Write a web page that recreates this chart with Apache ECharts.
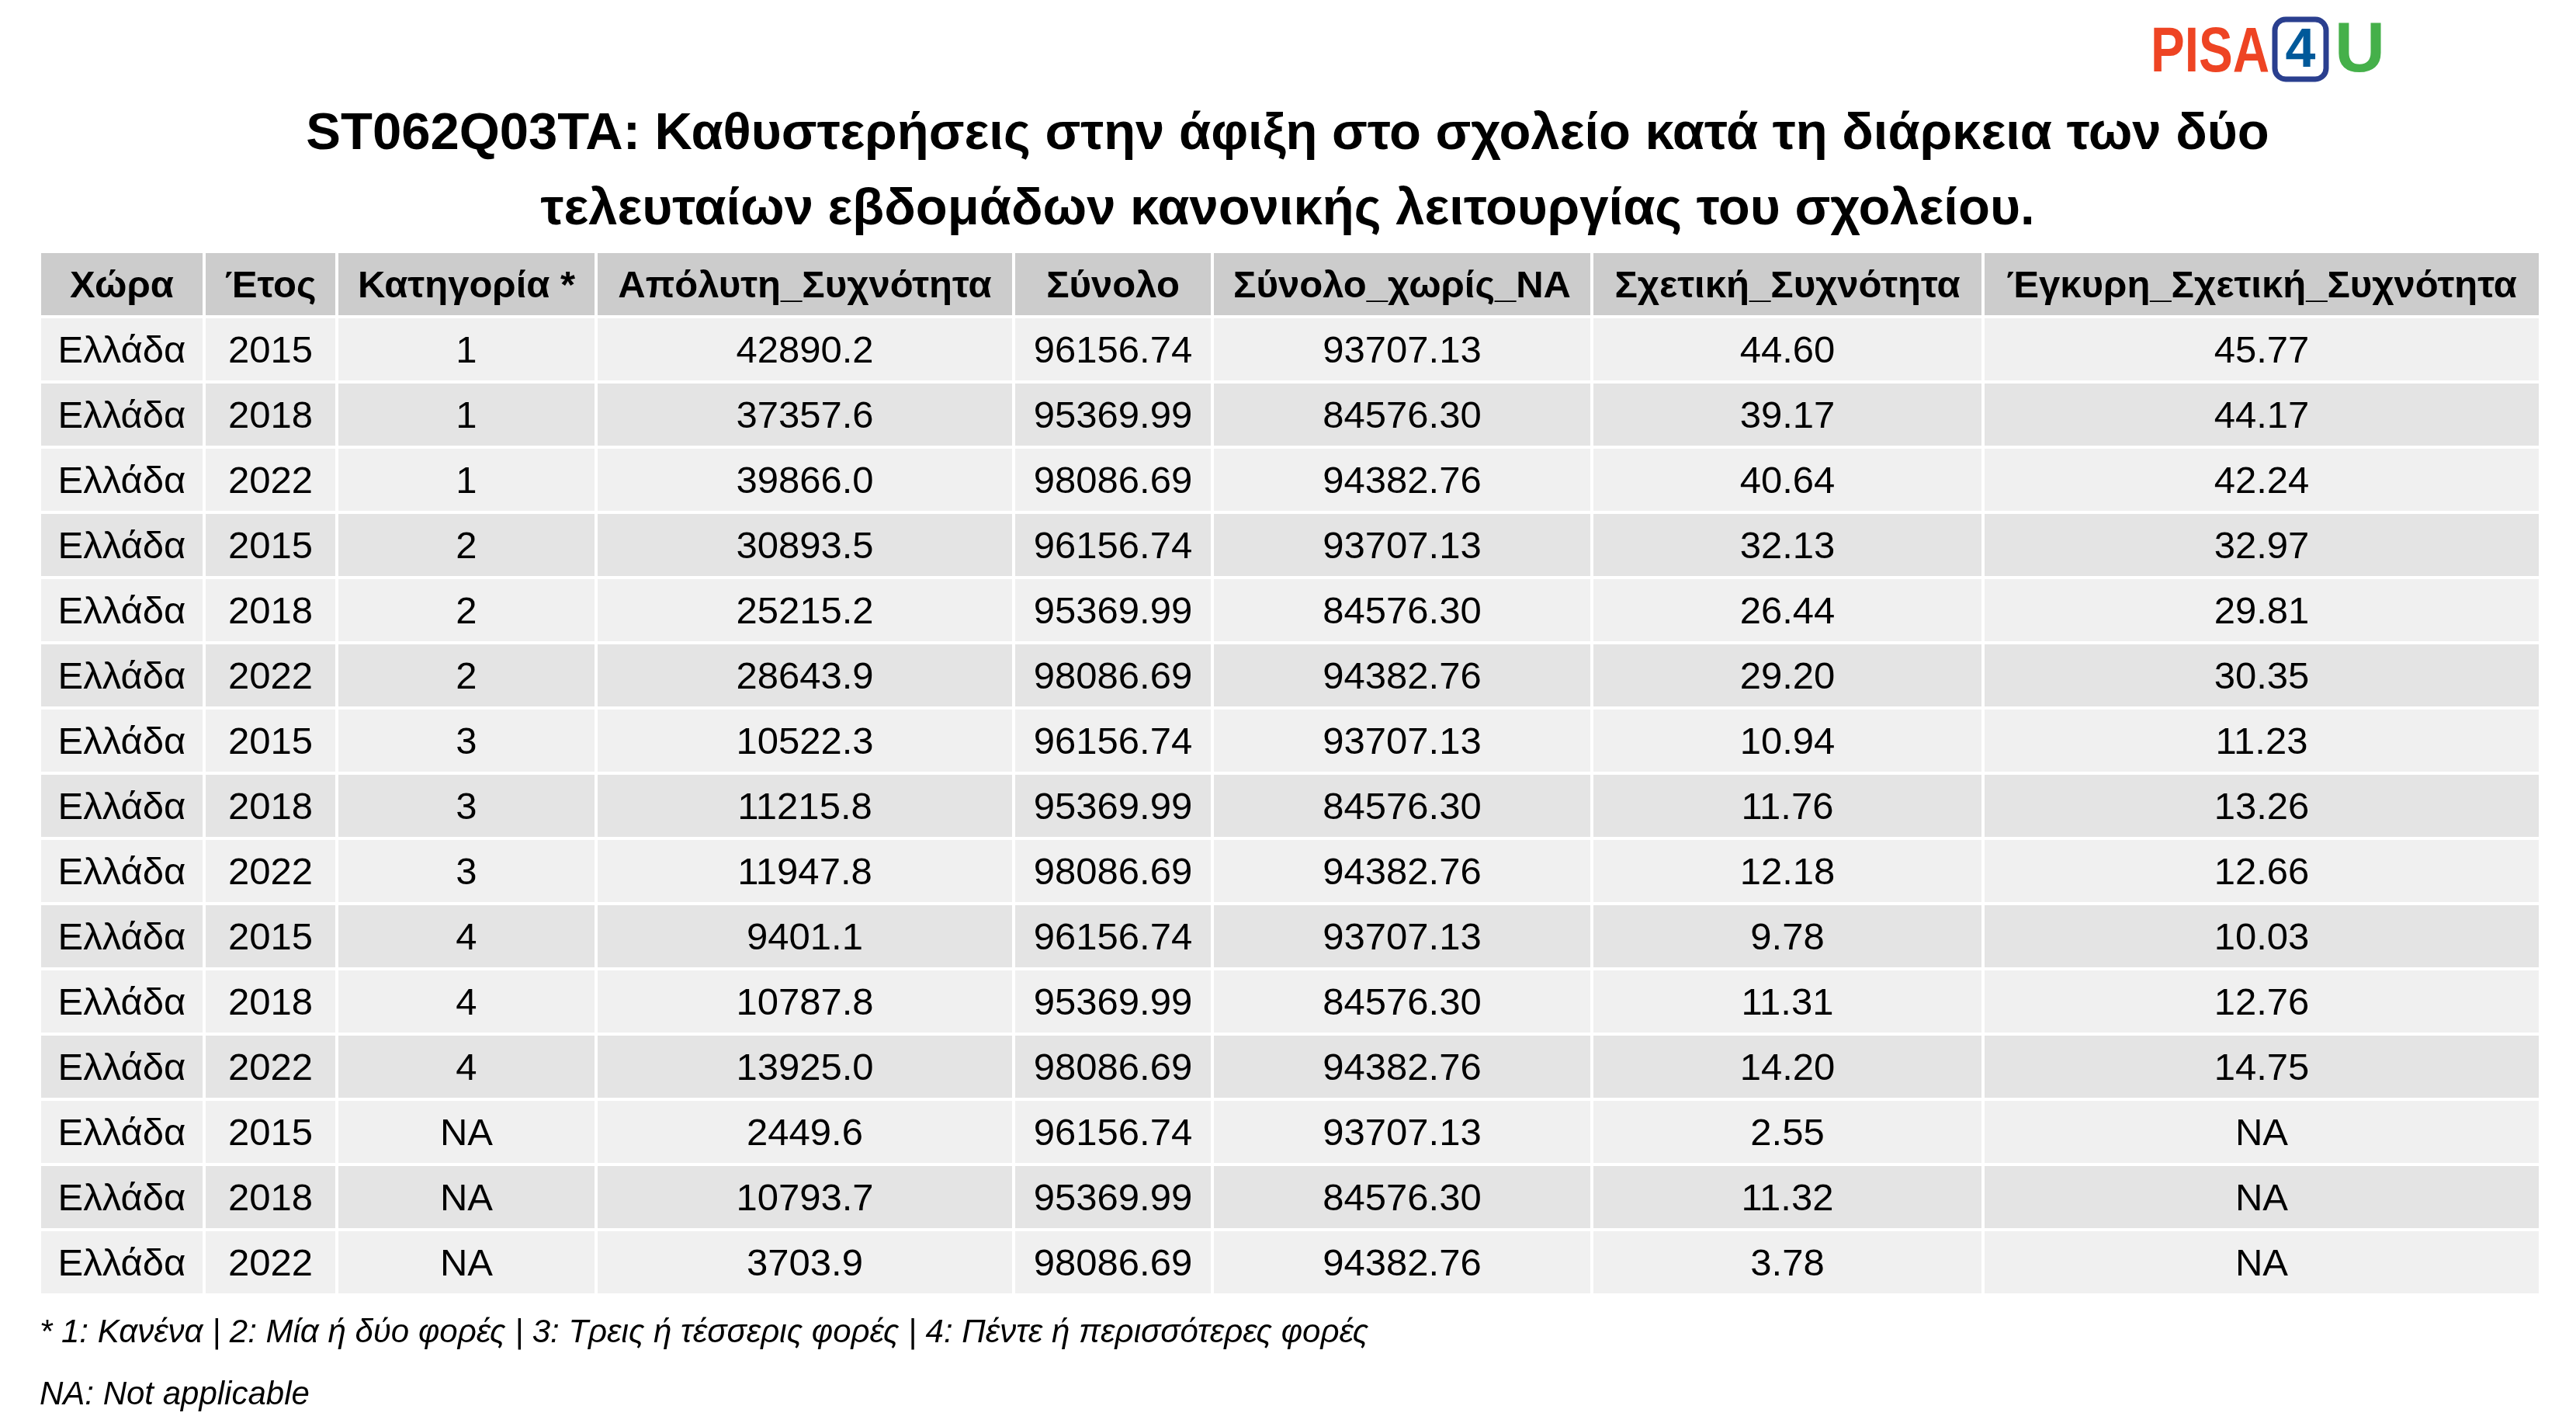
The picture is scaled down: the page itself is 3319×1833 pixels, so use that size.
<!DOCTYPE html>
<html><head><meta charset="utf-8">
<script src="https://cdn.jsdelivr.net/npm/echarts@6/dist/echarts.min.js"></script>
<style>html,body{margin:0;padding:0;background:#fff}#c{width:3319px;height:1833px}</style>
</head><body><div id="c"></div>
<script>
const headers = ['Χώρα','Έτος','Κατηγορία *','Απόλυτη_Συχνότητα','Σύνολο','Σύνολο_χωρίς_NA','Σχετική_Συχνότητα','Έγκυρη_Σχετική_Συχνότητα'];
const countries = Array(15).fill('Ελλάδα');
const years = ['2015','2018','2022','2015','2018','2022','2015','2018','2022','2015','2018','2022','2015','2018','2022'];
const categories = ['1','1','1','2','2','2','3','3','3','4','4','4','NA','NA','NA'];
const absFreq = ['42890.2','37357.6','39866.0','30893.5','25215.2','28643.9','10522.3','11215.8','11947.8','9401.1','10787.8','13925.0','2449.6','10793.7','3703.9'];
const totals = ['96156.74','95369.99','98086.69','96156.74','95369.99','98086.69','96156.74','95369.99','98086.69','96156.74','95369.99','98086.69','96156.74','95369.99','98086.69'];
const totalsNoNA = ['93707.13','84576.30','94382.76','93707.13','84576.30','94382.76','93707.13','84576.30','94382.76','93707.13','84576.30','94382.76','93707.13','84576.30','94382.76'];
const relFreq = ['44.60','39.17','40.64','32.13','26.44','29.20','10.94','11.76','12.18','9.78','11.31','14.20','2.55','11.32','3.78'];
const validRelFreq = ['45.77','44.17','42.24','32.97','29.81','30.35','11.23','13.26','12.66','10.03','12.76','14.75','NA','NA','NA'];
const title = ['ST062Q03TA: Καθυστερήσεις στην άφιξη στο σχολείο κατά τη διάρκεια των δύο','τελευταίων εβδομάδων κανονικής λειτουργίας του σχολείου.'];
const notes = ['* 1: Κανένα | 2: Μία ή δύο φορές | 3: Τρεις ή τέσσερις φορές | 4: Πέντε ή περισσότερες φορές','NA: Not applicable'];

const columns = [countries, years, categories, absFreq, totals, totalsNoNA, relFreq, validRelFreq];
const colEdges = [51,263,434,768,1306,1562,2051,2555,3273];
const tableTop = 324, rowH = 84;

const data = [];
headers.forEach((h,c)=>data.push([c,0,h]));
for (let r=0;r<15;r++) columns.forEach((col,c)=>data.push([c,r+1,col[r]]));

const chart = echarts.init(document.getElementById('c'));
const FF = '"Liberation Sans", Arial, sans-serif';
chart.setOption({
  animation:false,
  grid:{left:0,right:0,top:0,bottom:0},
  xAxis:{type:'value',min:0,max:3319,show:false},
  yAxis:{type:'value',min:0,max:1833,inverse:true,show:false},
  series:[{
    type:'custom',
    data:data,
    renderItem:function(params,api){
      const c=api.value(0), r=api.value(1), txt=data[params.dataIndex][2];
      const p0=api.coord([colEdges[c]+2, tableTop + r*rowH + 2]);
      const p1=api.coord([colEdges[c+1]-2, tableTop + (r+1)*rowH - 2]);
      const fill = r===0 ? '#cccccc' : (r%2===1 ? '#f0f0f0' : '#e4e4e4');
      return {type:'group',children:[
        {type:'rect',shape:{x:p0[0],y:p0[1],width:p1[0]-p0[0],height:p1[1]-p0[1]},style:{fill:fill}},
        {type:'text',x:(p0[0]+p1[0])/2,y:(p0[1]+p1[1])/2+3,style:{text:txt,fill:'#000',font:(r===0?'bold ':'')+'49px '+FF,align:'center',verticalAlign:'middle'}}
      ]};
    }
  }],
  graphic:[
    {type:'text',x:1659,y:174,style:{text:title[0],font:'bold 67px '+FF,fill:'#000',align:'center',verticalAlign:'middle'}},
    {type:'text',x:1659,y:271,style:{text:title[1],font:'bold 67px '+FF,fill:'#000',align:'center',verticalAlign:'middle'}},
    {type:'text',x:51,y:1717,style:{text:notes[0],font:'italic 42px '+FF,fill:'#000',verticalAlign:'middle'}},
    {type:'text',x:51,y:1797,style:{text:notes[1],font:'italic 42px '+FF,fill:'#000',verticalAlign:'middle'}},
    {type:'text',x:2771,y:69,scaleX:0.8,style:{text:'PISA',font:'bold 82px '+FF,fill:'#ee4423',verticalAlign:'middle'}},
    {type:'rect',shape:{x:2931,y:25,width:66,height:77,r:14},style:{fill:'none',stroke:'#2a3f8f',lineWidth:7}},
    {type:'text',x:2964,y:67,style:{text:'4',font:'bold 70px '+FF,fill:'#00599a',align:'center',verticalAlign:'middle'}},
    {type:'text',x:3008,y:67,style:{text:'U',font:'bold 90px '+FF,fill:'#45b04a',verticalAlign:'middle'}}
  ]
});
</script></body></html>
